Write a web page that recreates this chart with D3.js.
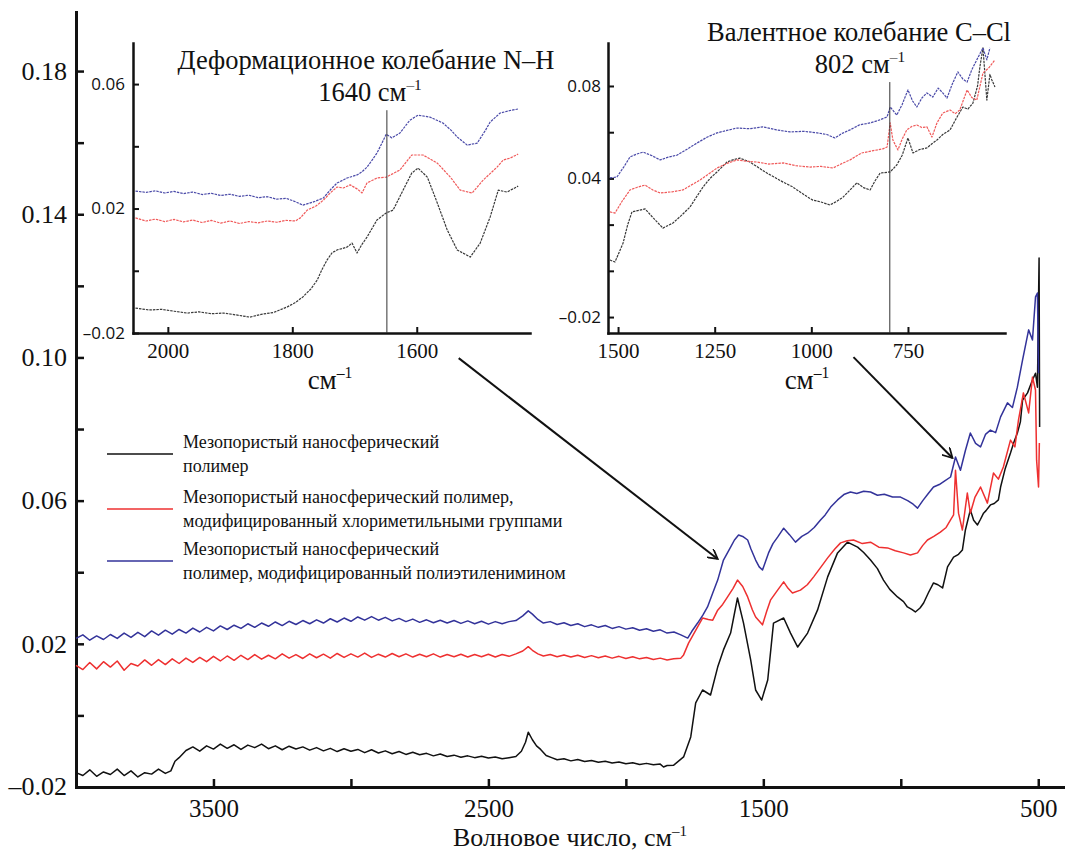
<!DOCTYPE html>
<html>
<head>
<meta charset="utf-8">
<script src="https://cdn.jsdelivr.net/npm/d3@7"></script>
<style>
body { margin: 0; background: #fff; }
</style>
</head>
<body>
<svg id="chart" width="1065" height="857"></svg>
<script>
// main spectrum, [wavenumber cm-1, absorbance]
const black_main = [[4000,-0.0160],[3975,-0.0168],[3950,-0.0152],[3925,-0.0170],[3900,-0.0158],[3875,-0.0165],[3850,-0.0150],[3825,-0.0168],[3800,-0.0155],[3775,-0.0172],[3750,-0.0160],[3725,-0.0164],[3700,-0.0150],[3675,-0.0162],[3655,-0.0155],[3640,-0.0128],[3625,-0.0118],
[3600,-0.0098],[3575,-0.0088],[3550,-0.0100],[3525,-0.0085],[3500,-0.0094],[3475,-0.0080],[3450,-0.0092],[3425,-0.0082],[3400,-0.0095],[3375,-0.0083],[3350,-0.0090],[3325,-0.0080],[3300,-0.0093],[3275,-0.0085],[3250,-0.0096],[3225,-0.0086],[3200,-0.0094],[3175,-0.0088],[3150,-0.0097],[3125,-0.0090],[3100,-0.0099],[3075,-0.0092],[3050,-0.0101],[3025,-0.0093],[3000,-0.0100],[2975,-0.0095],[2950,-0.0104],[2925,-0.0096],[2900,-0.0105],[2875,-0.0099],[2850,-0.0107],[2825,-0.0101],[2800,-0.0109],[2775,-0.0103],[2750,-0.0110],[2725,-0.0106],[2700,-0.0113],[2675,-0.0108],[2650,-0.0115],[2625,-0.0111],[2600,-0.0117],[2575,-0.0113],[2550,-0.0118],[2525,-0.0114],[2500,-0.0119],[2475,-0.0116],[2450,-0.0121],[2425,-0.0118],[2400,-0.0115],[2380,-0.0100],[2365,-0.0075],[2355,-0.0047],[2340,-0.0068],[2325,-0.0085],[2310,-0.0095],[2290,-0.0112],[2270,-0.0118],[2250,-0.0124],[2225,-0.0121],[2200,-0.0127],[2175,-0.0123],[2150,-0.0129],[2125,-0.0126],[2100,-0.0131],[2075,-0.0128],[2050,-0.0133],[2025,-0.0130],[2000,-0.0135],[1975,-0.0132],[1950,-0.0137],[1925,-0.0134],[1900,-0.0138],[1875,-0.0136],[1863,-0.0144],[1850,-0.0140],[1826,-0.0139],
[1790,-0.0116],[1764,-0.0060],[1746,0.0035],[1721,0.0071],[1692,0.0057],[1666,0.0135],[1645,0.0183],[1619,0.0230],[1594,0.0328],[1572,0.0258],[1546,0.0155],[1528,0.0071],[1506,0.0043],[1484,0.0099],[1463,0.0258],[1426,0.0272],[1401,0.0230],[1375,0.0191],[1339,0.0230],[1303,0.0294],[1266,0.0387],[1230,0.0454],[1194,0.0484],[1157,0.0470],[1135,0.0455],[1110,0.0434],[1085,0.0410],[1063,0.0378],[1040,0.0352],[1012,0.0331],[990,0.0318],[976,0.0303],[960,0.0296],[947,0.0289],[930,0.0300],[917,0.0314],[900,0.0342],[881,0.0370],[865,0.0365],[848,0.0356],[830,0.0415],[808,0.0442],[790,0.0450],[776,0.0462],[765,0.0518],[747,0.0574],[735,0.0545],[721,0.0532],[710,0.0548],[699,0.0565],[690,0.0572],[674,0.0588],[660,0.0592],[645,0.0602],[637,0.0638],[620,0.0690],[601,0.0733],[590,0.0760],[576,0.0789],[565,0.0820],[557,0.0881],[539,0.0901],[521,0.0937],[510,0.0956],[503,0.0917],[499,0.1160],[497,0.1278],[495,0.0806]];

const red_main = [[4000,0.0140],[3975,0.0128],[3950,0.0148],[3925,0.0130],[3900,0.0150],[3875,0.0135],[3850,0.0152],[3825,0.0126],[3800,0.0145],[3775,0.0138],[3750,0.0155],[3725,0.0140],[3700,0.0156],[3675,0.0142],[3650,0.0158],[3625,0.0145],[3600,0.0160],[3575,0.0148],[3550,0.0162],[3525,0.0150],[3500,0.0165],[3475,0.0152],[3450,0.0166],[3425,0.0154],[3400,0.0168],[3375,0.0156],[3350,0.0170],[3325,0.0157],[3300,0.0168],[3275,0.0158],[3250,0.0172],[3225,0.0160],[3200,0.0170],[3175,0.0159],[3150,0.0172],[3125,0.0161],[3100,0.0171],[3075,0.0160],[3050,0.0173],[3025,0.0162],[3000,0.0172],[2975,0.0163],[2950,0.0174],[2925,0.0162],[2900,0.0171],[2875,0.0163],[2850,0.0173],[2825,0.0164],[2800,0.0172],[2775,0.0163],[2750,0.0171],[2725,0.0164],[2700,0.0172],[2675,0.0163],[2650,0.0170],[2625,0.0164],[2600,0.0171],[2575,0.0163],[2550,0.0170],[2525,0.0164],[2500,0.0171],[2475,0.0163],[2450,0.0170],[2425,0.0165],[2400,0.0172],[2375,0.0180],[2355,0.0192],[2340,0.0182],[2320,0.0172],[2300,0.0166],[2275,0.0170],[2250,0.0164],[2225,0.0169],[2200,0.0163],[2175,0.0168],[2150,0.0162],[2125,0.0167],[2100,0.0161],[2075,0.0166],[2050,0.0160],[2025,0.0165],[2000,0.0159],[1975,0.0164],[1950,0.0158],[1925,0.0162],[1900,0.0156],[1875,0.0160],[1850,0.0155],[1826,0.0158],
[1800,0.0160],[1790,0.0169],[1772,0.0202],[1739,0.0247],[1721,0.0272],[1700,0.0268],[1684,0.0266],[1666,0.0294],[1648,0.0310],[1630,0.0331],[1610,0.0355],[1594,0.0378],[1575,0.0360],[1557,0.0331],[1540,0.0295],[1528,0.0275],[1503,0.0253],[1488,0.0290],[1474,0.0322],[1448,0.0350],[1426,0.0373],[1410,0.0355],[1394,0.0342],[1365,0.0350],[1340,0.0365],[1317,0.0387],[1290,0.0415],[1266,0.0440],[1240,0.0465],[1219,0.0482],[1195,0.0488],[1172,0.0490],[1140,0.0480],[1110,0.0484],[1080,0.0470],[1048,0.0468],[1020,0.0460],[990,0.0454],[965,0.0448],[939,0.0454],[920,0.0475],[903,0.0490],[880,0.0500],[856,0.0512],[835,0.0525],[819,0.0546],[808,0.0560],[801,0.0685],[790,0.0565],[776,0.0518],[758,0.0621],[747,0.0565],[730,0.0610],[710,0.0638],[685,0.0593],[663,0.0677],[645,0.0660],[627,0.0694],[601,0.0769],[585,0.0750],[572,0.0825],[554,0.0901],[535,0.0845],[521,0.0945],[510,0.0909],[506,0.0713],[499,0.0638],[496,0.0761]];

const blue_main = [[4000,0.0215],[3975,0.0225],[3950,0.0210],[3925,0.0222],[3900,0.0212],[3875,0.0226],[3850,0.0215],[3825,0.0230],[3800,0.0218],[3775,0.0232],[3750,0.0220],[3725,0.0236],[3700,0.0224],[3675,0.0238],[3650,0.0227],[3625,0.0240],[3600,0.0230],[3575,0.0244],[3550,0.0233],[3525,0.0246],[3500,0.0236],[3475,0.0250],[3450,0.0240],[3425,0.0252],[3400,0.0243],[3375,0.0256],[3350,0.0246],[3325,0.0258],[3300,0.0249],[3275,0.0261],[3250,0.0251],[3225,0.0263],[3200,0.0254],[3175,0.0265],[3150,0.0256],[3125,0.0267],[3100,0.0258],[3075,0.0270],[3050,0.0261],[3025,0.0272],[3000,0.0263],[2975,0.0275],[2950,0.0266],[2925,0.0276],[2900,0.0266],[2875,0.0274],[2850,0.0264],[2825,0.0271],[2800,0.0262],[2775,0.0269],[2750,0.0260],[2725,0.0267],[2700,0.0259],[2675,0.0266],[2650,0.0258],[2625,0.0265],[2600,0.0257],[2575,0.0264],[2550,0.0256],[2525,0.0263],[2500,0.0255],[2475,0.0262],[2450,0.0256],[2425,0.0262],[2400,0.0265],[2375,0.0278],[2355,0.0292],[2340,0.0283],[2320,0.0268],[2300,0.0258],[2275,0.0262],[2250,0.0254],[2225,0.0259],[2200,0.0251],[2175,0.0256],[2150,0.0248],[2125,0.0253],[2100,0.0246],[2075,0.0251],[2050,0.0243],[2025,0.0248],[2000,0.0241],[1975,0.0245],[1950,0.0238],[1925,0.0242],[1900,0.0235],[1875,0.0239],[1850,0.0230],[1825,0.0233],[1800,0.0225],
[1775,0.0216],[1760,0.0235],[1739,0.0258],[1720,0.0280],[1703,0.0303],[1685,0.0340],[1666,0.0378],[1645,0.0434],[1630,0.0455],[1619,0.0470],[1605,0.0490],[1590,0.0504],[1575,0.0500],[1557,0.0490],[1545,0.0465],[1528,0.0434],[1515,0.0415],[1503,0.0406],[1492,0.0430],[1481,0.0454],[1465,0.0480],[1448,0.0498],[1426,0.0523],[1405,0.0505],[1383,0.0484],[1360,0.0500],[1339,0.0509],[1315,0.0525],[1292,0.0546],[1275,0.0560],[1255,0.0582],[1230,0.0602],[1205,0.0618],[1183,0.0624],[1160,0.0620],[1135,0.0626],[1110,0.0624],[1085,0.0615],[1060,0.0618],[1030,0.0610],[1001,0.0610],[975,0.0600],[955,0.0590],[939,0.0579],[920,0.0600],[900,0.0620],[881,0.0638],[860,0.0645],[840,0.0655],[819,0.0666],[801,0.0722],[783,0.0685],[765,0.0740],[747,0.0789],[728,0.0760],[710,0.0750],[692,0.0785],[674,0.0797],[655,0.0790],[637,0.0834],[612,0.0873],[594,0.0860],[576,0.0917],[557,0.0993],[535,0.1077],[521,0.1049],[510,0.1169],[503,0.1180],[499,0.0956]];

// inset N-H (2050-1440)
const nh_black = [[2052,-0.0120],[2030,-0.0126],[2010,-0.0124],[1990,-0.0130],[1969,-0.0136],[1950,-0.0132],[1930,-0.0138],[1910,-0.0136],[1890,-0.0142],[1868,-0.0149],[1850,-0.0140],[1830,-0.0134],[1808,-0.0116],[1795,-0.0102],[1783,-0.0084],[1770,-0.0058],[1760,-0.0030],[1752,0.0005],[1744,0.0035],[1736,0.0058],[1728,0.0067],[1712,0.0076],[1704,0.0089],[1696,0.0057],[1688,0.0085],[1680,0.0108],[1664,0.0163],[1649,0.0186],[1638,0.0195],[1622,0.0259],[1608,0.0314],[1598,0.0330],[1583,0.0301],[1567,0.0218],[1551,0.0131],[1535,0.0067],[1514,0.0044],[1498,0.0089],[1482,0.0173],[1469,0.0259],[1455,0.0253],[1437,0.0272]];
const nh_red = [[2052,0.0170],[2035,0.0160],[2020,0.0166],[2005,0.0158],[1990,0.0165],[1975,0.0157],[1960,0.0163],[1945,0.0155],[1930,0.0162],[1915,0.0153],[1900,0.0160],[1885,0.0152],[1870,0.0158],[1855,0.0154],[1840,0.0160],[1825,0.0156],[1810,0.0162],[1795,0.0160],[1787,0.0170],[1776,0.0195],[1762,0.0208],[1750,0.0227],[1738,0.0252],[1728,0.0269],[1718,0.0266],[1707,0.0276],[1695,0.0262],[1688,0.0250],[1680,0.0282],[1664,0.0298],[1649,0.0301],[1627,0.0324],[1608,0.0372],[1590,0.0372],[1567,0.0346],[1546,0.0301],[1530,0.0259],[1511,0.0250],[1493,0.0292],[1471,0.0333],[1461,0.0356],[1450,0.0362],[1437,0.0375]];
const nh_blue = [[2052,0.0256],[2035,0.0252],[2020,0.0257],[2005,0.0250],[1990,0.0255],[1975,0.0248],[1960,0.0253],[1945,0.0245],[1930,0.0249],[1915,0.0242],[1900,0.0246],[1885,0.0239],[1870,0.0243],[1855,0.0235],[1840,0.0238],[1825,0.0230],[1810,0.0233],[1795,0.0222],[1783,0.0211],[1765,0.0222],[1750,0.0234],[1738,0.0262],[1728,0.0282],[1712,0.0298],[1696,0.0308],[1688,0.0318],[1680,0.0333],[1672,0.0355],[1664,0.0378],[1656,0.0410],[1649,0.0439],[1640,0.0427],[1627,0.0443],[1611,0.0484],[1598,0.0500],[1579,0.0494],[1558,0.0475],[1545,0.0452],[1535,0.0430],[1519,0.0404],[1503,0.0410],[1490,0.0450],[1482,0.0478],[1466,0.0507],[1450,0.0515],[1437,0.0520]];

// inset C-Cl (1520-525)
const ccl_black = [[1521,0.0047],[1508,0.0038],[1487,0.0120],[1475,0.0200],[1464,0.0255],[1445,0.0262],[1430,0.0268],[1409,0.0229],[1384,0.0185],[1358,0.0207],[1336,0.0240],[1314,0.0276],[1297,0.0320],[1280,0.0363],[1262,0.0400],[1244,0.0428],[1218,0.0471],[1200,0.0482],[1185,0.0488],[1159,0.0471],[1138,0.0448],[1115,0.0423],[1095,0.0405],[1073,0.0384],[1050,0.0365],[1029,0.0341],[1010,0.0320],[996,0.0306],[975,0.0298],[952,0.0285],[935,0.0300],[918,0.0319],[900,0.0350],[882,0.0381],[865,0.0360],[848,0.0350],[835,0.0390],[822,0.0423],[796,0.0428],[779,0.0458],[765,0.0500],[750,0.0575],[737,0.0510],[720,0.0525],[701,0.0532],[688,0.0550],[675,0.0566],[660,0.0590],[641,0.0610],[625,0.0660],[608,0.0709],[595,0.0700],[582,0.0726],[570,0.0800],[564,0.0882],[556,0.0965],[546,0.0739],[538,0.0850],[533,0.0826],[525,0.0796]];
const ccl_red = [[1521,0.0255],[1508,0.0250],[1490,0.0300],[1469,0.0350],[1450,0.0362],[1430,0.0371],[1410,0.0350],[1391,0.0337],[1360,0.0342],[1332,0.0350],[1310,0.0372],[1288,0.0393],[1265,0.0420],[1244,0.0445],[1218,0.0465],[1192,0.0480],[1165,0.0474],[1141,0.0471],[1110,0.0462],[1073,0.0467],[1040,0.0455],[1003,0.0449],[975,0.0452],[944,0.0445],[920,0.0465],[900,0.0480],[870,0.0510],[840,0.0520],[815,0.0528],[804,0.0536],[796,0.0640],[789,0.0566],[776,0.0523],[765,0.0570],[753,0.0610],[740,0.0625],[727,0.0631],[714,0.0620],[701,0.0623],[688,0.0579],[675,0.0640],[660,0.0683],[641,0.0696],[628,0.0680],[616,0.0696],[597,0.0783],[585,0.0750],[572,0.0739],[556,0.0856],[540,0.0880],[525,0.0913]];
const ccl_blue = [[1521,0.0402],[1503,0.0406],[1485,0.0450],[1469,0.0493],[1452,0.0505],[1435,0.0514],[1412,0.0498],[1391,0.0480],[1370,0.0492],[1347,0.0501],[1320,0.0528],[1296,0.0553],[1270,0.0578],[1244,0.0597],[1218,0.0608],[1192,0.0618],[1160,0.0615],[1125,0.0623],[1090,0.0610],[1055,0.0601],[1020,0.0604],[985,0.0597],[960,0.0590],[939,0.0575],[920,0.0595],[900,0.0610],[875,0.0632],[848,0.0640],[825,0.0652],[804,0.0666],[796,0.0709],[779,0.0674],[765,0.0720],[750,0.0783],[738,0.0735],[727,0.0709],[714,0.0748],[701,0.0770],[686,0.0752],[672,0.0791],[660,0.0770],[649,0.0748],[635,0.0810],[621,0.0861],[608,0.0830],[597,0.0817],[585,0.0870],[572,0.0913],[556,0.0965],[546,0.0913],[538,0.0965]];

// ticks
const main_x_ticks = [3500,3000,2500,2000,1500,1000,500];
const main_x_labels = [3500,2500,1500,500];
const main_y_ticks = [0,0.02,0.04,0.06,0.08,0.10,0.12,0.14,0.16,0.18];
const main_y_labels = [-0.02,0.02,0.06,0.10,0.14,0.18];
const nh_x_ticks = [2000,1800,1600];
const nh_y_ticks = [-0.02,0,0.02,0.04,0.06];
const nh_y_labels = [-0.02,0.02,0.06];
const ccl_x_ticks = [1500,1250,1000,750];
const ccl_y_ticks = [-0.02,0,0.02,0.04,0.06,0.08];
const ccl_y_labels = [-0.02,0.04,0.08];

// band markers, cm-1
const nh_marker = 1648;
const ccl_marker = 797;

// arrows: [from wn, from abs, to wn, to abs] in main axes units
const arrows = [[2608,0.0998,1666,0.0437],[1172,0.1001,812,0.0719]];

const series_colors = ["#111111","#ee3030","#33339a"];
const inset_colors = ["#3a3a3a","#f05a5a","#4a4aa8"];
const legend_texts = [
    ["Мезопористый наносферический","полимер"],
    ["Мезопористый наносферический полимер,","модифицированный хлориметильными группами"],
    ["Мезопористый наносферический","полимер, модифицированный полиэтиленимином"]
];

const SERIF = "'Liberation Serif', 'DejaVu Serif', serif";
const SANS = "'Open Sans', 'DejaVu Sans', sans-serif";

const svg = d3.select("#chart").style("font-family", SERIF);

const x_main = d3.scaleLinear().domain([4000, 410]).range([76, 1063]);
const y_main = d3.scaleLinear().domain([-0.02, 0.1965]).range([787, 12]);
const x_nh = d3.scaleLinear().domain([2056, 1418]).range([133, 530]);
const y_nh = d3.scaleLinear().domain([-0.02, 0.0732]).range([333, 43]);
const x_ccl = d3.scaleLinear().domain([1526, 499]).range([608, 1005]);
const y_ccl = d3.scaleLinear().domain([-0.0269, 0.0986]).range([333, 43]);

function fmt_val(v){
    const s = d3.format(".2f")(Math.abs(v));
    return v < -1e-9 ? "–" + s : s;
}
function has(list, v){ return list.some(l => Math.abs(l - v) < 1e-9); }

function label(x, y, size){
    return svg.append("text").attr("x", x).attr("y", y).attr("text-anchor", "middle")
        .style("font-family", SERIF).style("font-size", size + "px").attr("fill", "#111");
}
function superscript(t, base, sup, size){
    t.append("tspan").text(base);
    t.append("tspan").attr("dy", -size*0.4).style("font-size", (size*0.58) + "px").text(sup);
}

function draw_axes(xs, ys, xt, xl, yt, yl, opt){
    const gx = svg.append("g").attr("transform", "translate(0," + ys.range()[0] + ")")
        .call(d3.axisBottom(xs).tickValues(xt).tickSize(-opt.tick).tickSizeOuter(0).tickPadding(opt.xpad)
            .tickFormat(d => has(xl, d) ? d : ""));
    gx.attr("font-family", null).attr("font-size", null);
    gx.selectAll(".tick text").style("font-family", SERIF).style("font-size", opt.xfont + "px");
    const gy = svg.append("g").attr("transform", "translate(" + xs.range()[0] + ",0)")
        .call(d3.axisLeft(ys).tickValues(yt).tickSize(-opt.tick).tickSizeOuter(0).tickPadding(opt.ypad)
            .tickFormat(d => has(yl, d) ? fmt_val(d) : ""));
    gy.attr("font-family", null).attr("font-size", null);
    gy.selectAll(".tick text").style("font-family", opt.yfamily).style("font-size", opt.yfont + "px");
    [gx, gy].forEach(g => {
        g.select(".domain").attr("stroke", "#111").attr("stroke-width", opt.width).attr("stroke-linecap", "square");
        g.selectAll(".tick line").attr("stroke", "#111").attr("stroke-width", opt.width - 0.5);
        g.selectAll(".tick text").attr("fill", "#111");
    });
}

function draw_curve(data, xs, ys, color, width, dash){
    svg.append("path")
        .datum(data)
        .attr("fill", "none")
        .attr("stroke", color)
        .attr("stroke-width", width)
        .attr("stroke-linejoin", "round")
        .attr("stroke-dasharray", dash)
        .attr("d", d3.line().x(d => xs(d[0])).y(d => ys(d[1])));
}

// main plot
draw_axes(x_main, y_main, main_x_ticks, main_x_labels, main_y_ticks, main_y_labels,
    {tick: 8, xpad: 12, ypad: 9, xfont: 25, yfont: 26, yfamily: SERIF, width: 3});
// the -0.02 label sits at the corner
label(67, y_main(-0.02) + 8, 26).attr("text-anchor", "end").text(fmt_val(main_y_labels[0]));

[black_main, red_main, blue_main].forEach((s, i) => draw_curve(s, x_main, y_main, series_colors[i], 1.5, null));

superscript(label(570, 846, 26), "Волновое число, см", "–1", 26);

// insets
draw_axes(x_nh, y_nh, nh_x_ticks, nh_x_ticks, nh_y_ticks, nh_y_labels,
    {tick: 6, xpad: 10, ypad: 8, xfont: 21, yfont: 17, yfamily: SANS, width: 2.5});
draw_axes(x_ccl, y_ccl, ccl_x_ticks, ccl_x_ticks, ccl_y_ticks, ccl_y_labels,
    {tick: 6, xpad: 10, ypad: 7, xfont: 21, yfont: 17, yfamily: SANS, width: 2.5});

[nh_black, nh_red, nh_blue].forEach((s, i) => draw_curve(s, x_nh, y_nh, inset_colors[i], 1.2, "2.5,1"));
[ccl_black, ccl_red, ccl_blue].forEach((s, i) => draw_curve(s, x_ccl, y_ccl, inset_colors[i], 1.2, "2.5,1"));

svg.append("line").attr("x1", x_nh(nh_marker)).attr("x2", x_nh(nh_marker))
    .attr("y1", y_nh(0.0516)).attr("y2", y_nh.range()[0]).attr("stroke", "#333").attr("stroke-width", 1);
svg.append("line").attr("x1", x_ccl(ccl_marker)).attr("x2", x_ccl(ccl_marker))
    .attr("y1", y_ccl(0.0817)).attr("y2", y_ccl.range()[0]).attr("stroke", "#333").attr("stroke-width", 1);

label(366, 69, 26.5).text("Деформационное колебание N–H");
superscript(label(370, 101, 26.5), "1640 см", "–1", 26.5);
label(859, 41, 26.5).text("Валентное колебание C–Cl");
superscript(label(860, 73, 26.5), "802 см", "–1", 26.5);

superscript(label(330, 389, 27), "см", "–1", 27);
superscript(label(807, 389, 27), "см", "–1", 27);

// arrows
svg.append("defs").append("marker")
    .attr("id", "head").attr("viewBox", "0 0 10 10").attr("refX", 9).attr("refY", 5)
    .attr("markerWidth", 11).attr("markerHeight", 11).attr("markerUnits", "userSpaceOnUse")
    .attr("orient", "auto")
    .append("path").attr("d", "M0,0 L9,5 L0,10").attr("fill", "none").attr("stroke", "#111").attr("stroke-width", 1.6);

svg.selectAll(".arrow").data(arrows).enter().append("line")
    .attr("class", "arrow")
    .attr("x1", d => x_main(d[0])).attr("y1", d => y_main(d[1]))
    .attr("x2", d => x_main(d[2])).attr("y2", d => y_main(d[3]))
    .attr("stroke", "#111").attr("stroke-width", 2)
    .attr("marker-end", "url(#head)");

// legend
const legend_top = [448, 503, 555];
legend_texts.forEach((lines, i) => {
    const g = svg.append("g");
    g.append("line").attr("x1", 107).attr("x2", 173)
        .attr("y1", legend_top[i] + 6).attr("y2", legend_top[i] + 6)
        .attr("stroke", series_colors[i]).attr("stroke-width", 1.4);
    lines.forEach((l, j) => {
        g.append("text").attr("x", 183).attr("y", legend_top[i] + j*24)
            .style("font-family", SERIF).style("font-size", "18px").attr("fill", "#111").text(l);
    });
});
</script>
</body>
</html>
